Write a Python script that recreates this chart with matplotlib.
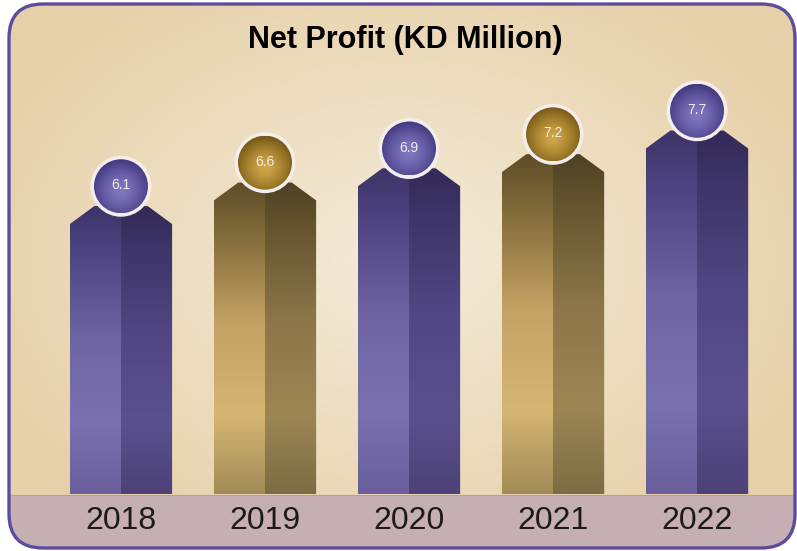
import numpy as np
import matplotlib
matplotlib.use("Agg")
from matplotlib import pyplot as plt
from matplotlib.patches import Polygon, FancyBboxPatch, Rectangle, Ellipse

# data
years = ["2018", "2019", "2020", "2021", "2022"]
profit = [6.1, 6.6, 6.9, 7.2, 7.7]
labels = ["6.1", "6.6", "6.9", "7.2", "7.7"]
themes = ["purple", "gold", "purple", "gold", "purple"]

# colour stops, bottom -> top, for the left (lit) and right (shaded) halves
stops = [0.0, 0.25, 0.55, 0.85, 1.0]
bar_colors = {
    "purple": (["#6a5f9c", "#7c71b0", "#6e63a3", "#4d4380", "#3d3468"],
               ["#4c4278", "#5a508e", "#514785", "#3e3569", "#332a58"]),
    "gold": (["#a08c58", "#d6b673", "#c4a263", "#7d6838", "#5f4d28"],
             ["#7c6c45", "#9c8653", "#8d774a", "#65552f", "#4f4124"]),
}
# ball colours: centre, edge
ball_colors = {"purple": ("#8178c2", "#463b82"),
               "gold": ("#d0a848", "#7a5a16")}


def hex2rgb(h):
    return np.array(matplotlib.colors.to_rgb(h))


def vgrad(cols, n=200):
    t = np.linspace(0, 1, n)
    rgb = np.array([hex2rgb(c) for c in cols])
    arr = np.stack([np.interp(t, stops, rgb[:, k]) for k in range(3)], axis=1)
    return arr[::-1].reshape(n, 1, 3)  # top row first


def rgrad(c_mid, c_edge, n=101):
    yy, xx = np.mgrid[-1:1:n * 1j, -1:1:n * 1j]
    r = np.clip(np.sqrt(xx ** 2 + (yy - 0.15) ** 2) / 1.1, 0, 1) ** 1.4
    a, b = hex2rgb(c_mid), hex2rgb(c_edge)
    return a[None, None, :] * (1 - r[..., None]) + b[None, None, :] * r[..., None]


fig = plt.figure(figsize=(7.97, 5.51), dpi=100)

# ---- background frame (pixel coords) ----
bg = fig.add_axes([0, 0, 1, 1])
bg.axis("off")

frame = FancyBboxPatch((9, 4), 786, 544, boxstyle="round,pad=0,rounding_size=34",
                       facecolor="none", edgecolor="#5b4c9d", linewidth=2.4, zorder=5)
clip_frame = FancyBboxPatch((9, 4), 786, 544, boxstyle="round,pad=0,rounding_size=34",
                            transform=bg.transData)
yy, xx = np.mgrid[0:551, 0:797]
d = np.sqrt(((xx - 400) / 460.0) ** 2 + ((yy - 260) / 330.0) ** 2)
d = np.clip(d, 0, 1)
c_in = hex2rgb("#f5ebd9")
c_out = hex2rgb("#e6d0a8")
bg_img = c_in[None, None, :] * (1 - d[..., None]) + c_out[None, None, :] * d[..., None]
im = bg.imshow(bg_img, extent=[0, 797, 551, 0], aspect="auto", zorder=0)
im.set_clip_path(clip_frame)
band = Rectangle((0, 495), 797, 60, facecolor="#c5afb2", edgecolor="none", zorder=1)
bg.add_patch(band)
band.set_clip_path(clip_frame)
bg.plot([12, 792], [495, 495], color="#b39ea0", lw=0.8, zorder=2)
bg.add_patch(frame)
bg.set_xlim(0, 797)
bg.set_ylim(551, 0)

# ---- main axes (data coords) ----
ax = fig.add_axes([0, 0, 1, 1])
ax.patch.set_alpha(0)
ax.axis("off")
ax.set_xlim(-0.840, 4.694)
ax.set_ylim(-1.208, 10.466)
# pixels per data unit, so the balls stay round
px_x = 797 / (4.694 + 0.840)
px_y = 551 / (10.466 + 1.208)

x = np.arange(len(years))
w = 0.355       # half width of a bar
chamfer_x = 0.17
chamfer_y = 0.38
r_in = 27.0     # ball radius, px
r_ring = 3.5    # white ring, px

for i, (v, th) in enumerate(zip(profit, themes)):
    pts = [(x[i] - w, 0), (x[i] - w, v - chamfer_y), (x[i] - w + chamfer_x, v),
           (x[i] + w - chamfer_x, v), (x[i] + w, v - chamfer_y), (x[i] + w, 0)]
    left_cols, right_cols = bar_colors[th]
    for cols, (x0, x1) in [(left_cols, (x[i] - w, x[i])), (right_cols, (x[i], x[i] + w))]:
        img = ax.imshow(vgrad(cols), extent=[x0, x1, 0, v], aspect="auto", zorder=3)
        img.set_clip_path(Polygon(pts, closed=True, transform=ax.transData))

    # value ball
    cy = v + 0.42
    ring = Ellipse((x[i], cy), 2 * (r_in + r_ring) / px_x, 2 * (r_in + r_ring) / px_y,
                   facecolor="#f3eeec", edgecolor="none", zorder=6)
    ax.add_patch(ring)
    bw, bh = r_in / px_x, r_in / px_y
    ball = ax.imshow(rgrad(*ball_colors[th]), extent=[x[i] - bw, x[i] + bw, cy - bh, cy + bh],
                     aspect="auto", zorder=7)
    ball.set_clip_path(Ellipse((x[i], cy), 2 * bw, 2 * bh, transform=ax.transData))
    ax.text(x[i], cy + 0.02, labels[i], ha="center", va="center", fontsize=10,
            color="#f3ece6", family="Liberation Sans", zorder=8)

    ax.text(x[i], -0.58, years[i], ha="center", va="center", fontsize=23,
            color="#1e1a1c", family="Liberation Sans", zorder=8)

ax.set_xlim(-0.840, 4.694)
ax.set_ylim(-1.208, 10.466)

fig.text(405 / 797, 1 - 40 / 551, "Net Profit (KD Million)", ha="center", va="center",
         fontsize=22, fontweight="bold", family="Liberation Sans", color="#000000")

plt.savefig("out.png", dpi=100)
